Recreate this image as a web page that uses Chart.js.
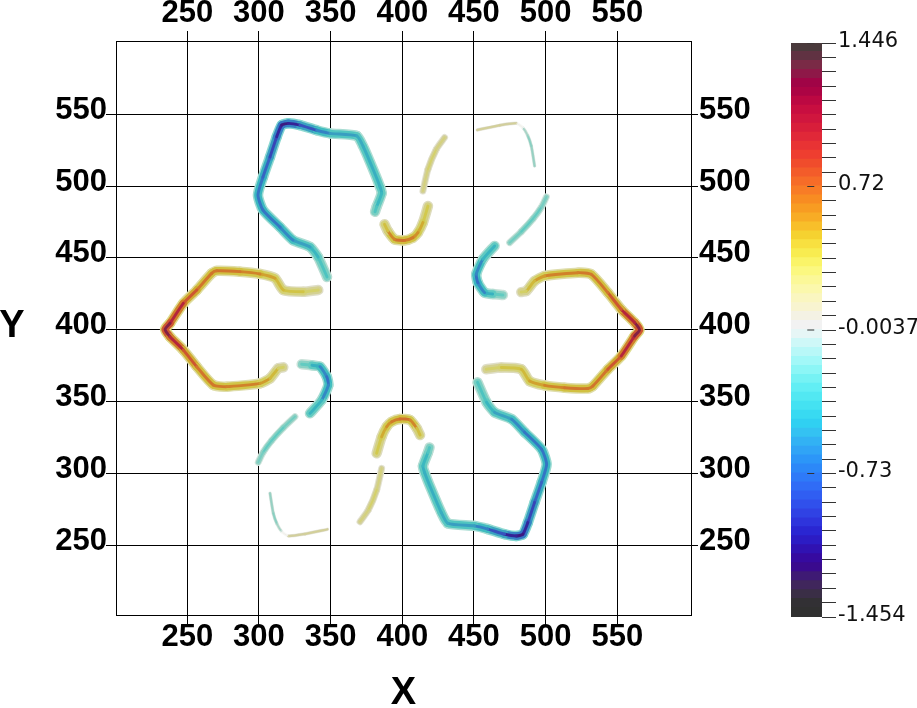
<!DOCTYPE html>
<html><head><meta charset="utf-8">
<script src="https://cdn.jsdelivr.net/npm/chart.js@4.4.1/dist/chart.umd.min.js"></script>
<style>
html,body{margin:0;padding:0;background:#fff;}
#wrap{position:relative;width:917px;height:708px;overflow:hidden;background:#fff;}
#main{position:absolute;left:0;top:0;}
#bar{position:absolute;left:760px;top:0;}
</style></head><body>
<div id="wrap"><canvas id="main" width="917" height="708"></canvas><canvas id="bar" width="157" height="708"></canvas></div>
<script>
// ---------------- data ----------------
const gridTicks = [250, 300, 350, 400, 450, 500, 550];
const xLimits = [200.26, 601.42];
const yLimits = [201.25, 601.06];
const xTitle = 'X';
const yTitle = 'Y';

const cbMin = -1.454, cbMax = 1.446;
const cbTickLabels = ['-1.454', '-0.73', '-0.0037', '0.72', '1.446']; // bottom to top

// top-left loop
const loopTL_x = [347.5,341.2,335.6,323.7,314.7,302.8,299.3,302.8,307.7,312.4,315.9,320.5,328.6,340.3,349.6,368.2,372.8,379.8,384.4,385.6,382.1,381.0];
const loopTL_y = [436.7,450.6,457.6,462.4,471.4,483.3,493.8,506.3,520.3,534.4,542.5,543.7,542.5,538.9,536.7,534.9,527.4,511.2,499.6,495.0,485.6,482.1];
const loopTL_v = [-0.3,-0.42,-0.5,-0.6,-0.7,-0.75,-0.72,-0.75,-0.85,-1.0,-1.15,-1.2,-1.0,-0.75,-0.6,-0.52,-0.5,-0.5,-0.5,-0.48,-0.42,-0.28];
// bottom-right loop
const loopBR_x = [452.5,458.8,464.4,476.3,485.3,497.2,500.7,497.2,492.3,487.6,484.1,479.5,471.4,459.7,450.4,431.8,427.2,420.2,415.6,414.4,417.9,419.0];
const loopBR_y = [363.3,349.4,342.4,337.6,328.6,316.7,306.2,293.7,279.7,265.6,257.5,256.3,257.5,261.1,263.3,265.1,272.6,288.8,300.4,305.0,314.4,317.9];
const loopBR_v = [-0.3,-0.42,-0.5,-0.6,-0.7,-0.75,-0.72,-0.75,-0.85,-1.0,-1.15,-1.2,-1.0,-0.75,-0.6,-0.52,-0.5,-0.5,-0.5,-0.48,-0.42,-0.28];
// left C
const cLeft_x = [341.4,330.9,317.0,311.2,300.7,286.8,270.5,267.0,256.6,247.2,237.9,234.5,237.9,247.2,256.6,268.1,277.5,300.7,307.7,313.5,317.0];
const cLeft_y = [427.6,426.4,427.6,435.8,438.8,440.4,441.0,439.2,427.6,418.3,404.4,400.2,395.1,385.9,374.2,361.5,360.3,362.6,366.1,373.1,373.8];
const cLeft_v = [0.22,0.38,0.42,0.48,0.58,0.68,0.68,0.66,0.72,0.88,1.2,1.35,1.2,0.88,0.72,0.66,0.68,0.6,0.5,0.4,0.22];
// right C
const cRight_x = [458.6,469.1,483.0,488.8,499.3,513.2,529.5,533.0,543.4,552.8,562.1,565.5,562.1,552.8,543.4,531.9,522.5,499.3,492.3,486.5,483.0];
const cRight_y = [372.4,373.6,372.4,364.2,361.2,359.6,359.0,360.8,372.4,381.7,395.6,399.8,404.9,414.1,425.8,438.5,439.7,437.4,433.9,426.9,426.2];
const cRight_v = [0.22,0.38,0.42,0.48,0.58,0.68,0.68,0.66,0.72,0.88,1.2,1.35,1.2,0.88,0.72,0.66,0.68,0.6,0.5,0.4,0.22];
// small hooks
const hookL_x = [329.8,337.0,342.6,347.3,348.4,343.8,335.6];
const hookL_y = [375.9,375.2,374.2,367.2,361.4,351.0,341.7];
const hookL_v = [-0.15,-0.42,-0.55,-0.75,-0.75,-0.55,-0.38];
const hookR_x = [470.2,463.0,457.4,452.7,451.6,456.2,464.4];
const hookR_y = [424.1,424.8,425.8,432.8,438.6,449.0,458.3];
const hookR_v = [-0.15,-0.42,-0.55,-0.75,-0.75,-0.55,-0.38];
// faint teal strokes
const tealL_x = [325.1,316.9,308.8,302.9,299.5];
const tealL_y = [339.4,331.6,322.7,314.6,307.6];
const tealL_v = [-0.2,-0.3,-0.3,-0.28,-0.18];
const tealR_x = [474.9,483.1,491.2,497.1,500.5];
const tealR_y = [460.6,468.4,477.3,485.4,492.4];
const tealR_v = [-0.2,-0.3,-0.3,-0.28,-0.18];
// thin corners
const cornerL_x = [307.7,310.0,312.6,315.9,320.5,332.1,347.7];
const cornerL_y = [286.0,272.1,264.6,259.3,256.3,257.7,260.9];
const cornerL_v = [-0.12,-0.2,-0.2,-0.06,0.12,0.22,0.15];
const cornerR_x = [492.3,490.0,487.4,484.1,479.5,467.9,452.3];
const cornerR_y = [514.0,527.9,535.4,540.7,543.7,542.3,539.1];
const cornerR_v = [-0.12,-0.2,-0.2,-0.06,0.12,0.22,0.15];
// arches
const archLow_x = [382.1,385.6,389.1,392.6,398.4,405.4,410.1,412.4];
const archLow_y = [313.9,325.4,332.4,335.9,337.8,337.1,331.3,326.6];
const archLow_v = [0.3,0.45,0.55,0.62,0.7,0.7,0.55,0.3];
const archHigh_x = [417.9,414.4,410.9,407.4,401.6,394.6,389.9,387.6];
const archHigh_y = [486.1,474.6,467.6,464.1,462.2,462.9,468.7,473.4];
const archHigh_v = [0.3,0.45,0.55,0.62,0.7,0.7,0.55,0.3];
// faint yellow strokes
const lineLow_x = [385.6,382.1,376.3,370.5];
const lineLow_y = [303.4,288.3,274.4,266.2];
const lineLow_v = [0.2,0.3,0.3,0.2];
const lineHigh_x = [414.4,417.9,423.7,429.5];
const lineHigh_y = [496.6,511.7,525.6,533.8];
const lineHigh_v = [0.2,0.3,0.3,0.2];

// ---------------- style ----------------
const bandWidth = { thick: 10.5, faint: 7, thin: 3.5 };
const pieces = [
  [loopTL_x, loopTL_y, loopTL_v, 'thick'], [loopBR_x, loopBR_y, loopBR_v, 'thick'],
  [cLeft_x, cLeft_y, cLeft_v, 'thick'], [cRight_x, cRight_y, cRight_v, 'thick'],
  [hookL_x, hookL_y, hookL_v, 'thick'], [hookR_x, hookR_y, hookR_v, 'thick'],
  [archLow_x, archLow_y, archLow_v, 'thick'], [archHigh_x, archHigh_y, archHigh_v, 'thick'],
  [tealL_x, tealL_y, tealL_v, 'faint'], [tealR_x, tealR_y, tealR_v, 'faint'],
  [lineLow_x, lineLow_y, lineLow_v, 'faint'], [lineHigh_x, lineHigh_y, lineHigh_v, 'faint'],
  [cornerL_x, cornerL_y, cornerL_v, 'thin'], [cornerR_x, cornerR_y, cornerR_v, 'thin']
];

// colour table of the colour bar, bottom to top
const cbColors = [
 '#303030','#323034','#3a2e46','#40265c','#3e1a74','#3a0a8e','#360aa0','#3012b2',
 '#2c1cc4','#2a26d2','#2e34dc','#3042e4','#3050ec','#305ef2','#306cf6','#2e7af8',
 '#2c88f8','#2c96f8','#30a4f6','#32b2f4','#34c2f2','#30d0f2','#38daf2','#44e2f2',
 '#52e8f2','#62eef4','#76f2f4','#8cf6f6','#a2f8f8','#b8f8f8','#cef8f8','#e6f6f6',
 '#f2f2f2','#f4f2e4','#f8f4d0','#faf6c0','#fbf8ac','#fbf898','#fbf880','#faf468',
 '#f8ec50','#f8e040','#f5d230','#f8bf2a','#f8ac25','#f89c22','#f88c22','#f87c26',
 '#f66c28','#f35c2a','#f04c2c','#ee3e30','#e83334','#e02838','#d81e3a','#d0163e',
 '#c80e40','#bc0842','#ac0444','#a00446','#8e1848','#7a2a46','#603242','#4a3a3c'
];
const rgbTable = cbColors.map(h => [parseInt(h.slice(1,3),16), parseInt(h.slice(3,5),16), parseInt(h.slice(5,7),16)]);
function cmapRGB(v) {
  const n = rgbTable.length;
  let t = (v - cbMin) / (cbMax - cbMin) * n - 0.5;
  t = Math.max(0, Math.min(n - 1, t));
  const i = Math.floor(t), f = t - i, j = Math.min(n - 1, i + 1);
  return rgbTable[i].map((c, k) => c + (rgbTable[j][k] - c) * f);
}
const layers = [
  { f: 1.0, w: 0.28, a: 1.0, order: 0 },
  { f: 0.62, w: 0.72, a: 1.0, order: 1 },
  { f: 0.3, w: 1.0, a: 0.75, order: 2 }
];
function lineColor(v, layer) {
  const vs = v * layer.f;
  const c = cmapRGB(vs);
  const k = [0.86, 0.86, 0.8];
  const a = Math.min(1, Math.abs(vs) / 0.1) * layer.a;
  const rgb = c.map((ch, i) => {
    const s = ch * k[i] * 0.9 + 0.1 * 175;
    return Math.round(255 * (1 - a) + s * a);
  });
  return 'rgb(' + rgb.join(',') + ')';
}

const datasets = [];
layers.forEach(layer => {
  pieces.forEach(([xs, ys, vs, kind]) => {
    datasets.push({
      data: xs.map((x, i) => ({ x: x, y: ys[i] })),
      showLine: true,
      pointRadius: 0,
      borderWidth: bandWidth[kind] * layer.w,
      borderCapStyle: 'round',
      borderJoinStyle: 'round',
      tension: 0.2,
      order: layer.order,
      borderColor: lineColor(vs[0], layer),
      segment: { borderColor: ctx => lineColor((vs[ctx.p0DataIndex] + vs[ctx.p1DataIndex]) / 2, layer) }
    });
  });
});

const tickFont = { family: 'Liberation Sans', size: 31, weight: 'bold' };
const setTicks = ax => { ax.ticks = gridTicks.map(v => ({ value: v })); };

const yTitlePlugin = {
  id: 'yTitle',
  afterDraw(chart) {
    const c = chart.ctx, a = chart.chartArea;
    c.save();
    c.font = 'bold 38px "Liberation Sans"';
    c.fillStyle = '#000';
    c.textAlign = 'center';
    c.textBaseline = 'middle';
    c.fillText(yTitle, 12, (a.top + a.bottom) / 2 - 1);
    c.restore();
  }
};

new Chart(document.getElementById('main'), {
  type: 'scatter',
  data: { datasets },
  plugins: [yTitlePlugin],
  options: {
    responsive: false, animation: false, events: [],
    layout: { padding: 0 },
    plugins: { legend: { display: false }, tooltip: { enabled: false } },
    scales: {
      x: {
        type: 'linear', position: 'bottom', min: xLimits[0], max: xLimits[1],
        afterBuildTicks: setTicks, afterFit: ax => { ax.height = 93; },
        grid: { color: '#000', lineWidth: 1, tickLength: 10 },
        border: { color: '#000', width: 1 },
        ticks: { font: tickFont, color: '#000', padding: -6, maxRotation: 0, autoSkip: false },
        title: { display: true, text: xTitle, color: '#000', font: { family: 'Liberation Sans', size: 38, weight: 'bold' }, padding: { top: 0, bottom: -8 } }
      },
      x2: {
        type: 'linear', position: 'top', min: xLimits[0], max: xLimits[1],
        afterBuildTicks: setTicks, afterFit: ax => { ax.height = 41; },
        grid: { color: '#000', lineWidth: 1, tickLength: 10, drawOnChartArea: false },
        border: { color: '#000', width: 1 },
        ticks: { font: tickFont, color: '#000', padding: -1.5, maxRotation: 0, autoSkip: false }
      },
      y: {
        type: 'linear', position: 'left', min: yLimits[0], max: yLimits[1],
        afterBuildTicks: setTicks, afterFit: ax => { ax.width = 116; },
        grid: { color: '#000', lineWidth: 1, tickLength: 10 },
        border: { color: '#000', width: 1 },
        ticks: { font: tickFont, color: '#000', padding: -1, labelOffset: -4, autoSkip: false }
      },
      y2: {
        type: 'linear', position: 'right', min: yLimits[0], max: yLimits[1],
        afterBuildTicks: setTicks, afterFit: ax => { ax.width = 226; },
        grid: { color: '#000', lineWidth: 1, tickLength: 7, drawOnChartArea: false },
        border: { color: '#000', width: 1 },
        ticks: { font: tickFont, color: '#000', padding: 1, labelOffset: -4, autoSkip: false }
      }
    }
  }
});

// ---------------- colour bar ----------------
const nBands = cbColors.length;
const bandStep = (cbMax - cbMin) / nBands;
const nMinor = 40;
const tickStep = (cbMax - cbMin) / nMinor;
const cbDatasets = cbColors.map((col, i) => ({
  type: 'bar',
  data: [{ x: 0.5, y: [cbMin + i * bandStep, Math.min(cbMax, cbMin + (i + 1) * bandStep + bandStep * 0.07)] }],
  backgroundColor: col, borderWidth: 0, barThickness: 31, grouped: false, order: 1
}));
cbTickLabels.forEach((lab, k) => {
  const v = cbMin + k * 10 * tickStep;
  cbDatasets.push({
    type: 'line', data: [{ x: 0.55, y: v }, { x: 1.0, y: v }],
    borderColor: '#333', borderWidth: 1, pointRadius: 0, order: 0
  });
});

new Chart(document.getElementById('bar'), {
  type: 'bar',
  data: { datasets: cbDatasets },
  options: {
    responsive: false, animation: false, events: [],
    layout: { padding: { left: 31, top: 43, bottom: 91, right: 0 } },
    plugins: { legend: { display: false }, tooltip: { enabled: false } },
    scales: {
      x: { type: 'linear', min: 0, max: 1, display: false },
      y: {
        type: 'linear', position: 'right', min: cbMin, max: cbMax,
        afterFit: ax => { ax.width = 95; },
        afterBuildTicks: ax => { ax.ticks = Array.from({ length: nMinor + 1 }, (_, i) => ({ value: cbMin + i * tickStep })); },
        grid: { drawOnChartArea: false, color: '#333', tickLength: 14 },
        border: { display: false },
        ticks: {
          autoSkip: false, padding: 2, labelOffset: -1.5, color: '#111',
          font: { family: 'DejaVu Sans', size: 21, weight: 'normal' },
          callback: (v, i) => (i % 10 === 0 ? cbTickLabels[i / 10] : '')
        }
      }
    }
  }
});
</script>
</body></html>
